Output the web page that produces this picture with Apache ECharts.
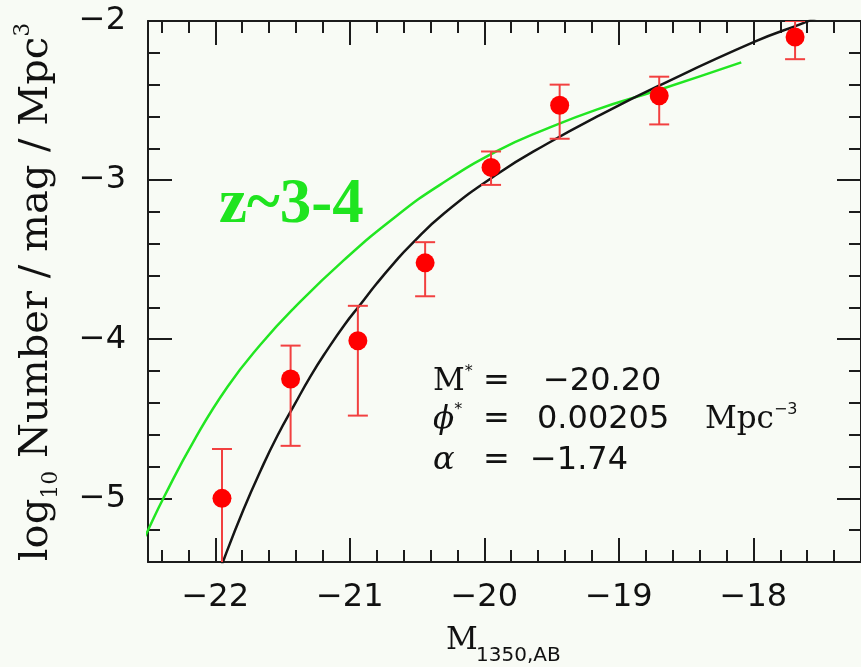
<!DOCTYPE html>
<html>
<head>
<meta charset="utf-8">
<script src="https://cdn.jsdelivr.net/npm/echarts@6/dist/echarts.min.js"></script>
<style>
  html, body { margin: 0; padding: 0; background: #f8fbf5; }
  #chart { width: 861px; height: 667px; }
</style>
</head>
<body>
<div id="chart"></div>
<script>
// Binned UV luminosity function: absolute magnitude M_1350,AB and log10 number density
const magBins   = [-21.95, -21.44, -20.94, -20.44, -19.95, -19.44, -18.70, -17.69];
const logPhi    = [-5.00, -4.25, -4.01, -3.52, -2.92, -2.53, -2.47, -2.10];
const logPhiHi  = [-4.69, -4.04, -3.79, -3.39, -2.82, -2.40, -2.35, -2.00];
const logPhiLo  = [-5.60, -4.67, -4.48, -3.73, -3.03, -2.74, -2.65, -2.24];

// Schechter fit through the bins (black curve)
const fitMag    = [-22.00, -21.93, -21.79, -21.66, -21.54, -21.41, -21.29, -21.17, -21.04, -20.92,
                   -20.80, -20.67, -20.55, -20.30, -19.90, -19.53, -19.16, -18.71, -17.99, -17.62,
                   -17.45];
const fitLogPhi = [-5.54, -5.37, -5.07, -4.82, -4.61, -4.41, -4.23, -4.07, -3.91, -3.78,
                   -3.65, -3.52, -3.41, -3.21, -2.96, -2.77, -2.60, -2.41, -2.13, -2.01,
                   -1.95];

// z~3-4 luminosity function for comparison (green curve)
const refMag    = [-22.60, -22.50, -22.38, -22.16, -21.91, -21.66, -21.41, -21.04, -20.66, -20.33,
                   -19.90, -19.53, -19.16, -18.71, -18.09];
const refLogPhi = [-5.38, -5.20, -4.99, -4.64, -4.30, -4.03, -3.80, -3.50, -3.23, -3.03,
                   -2.815, -2.675, -2.555, -2.435, -2.26];

// Axis ranges and labelled ticks
const xRange = [-22.5, -17.2];
const yRange = [-5.4, -2];
const xMajorTicks = [-22, -21, -20, -19, -18];
const yMajorTicks = [-5, -4, -3, -2];

// Fit parameters printed in the panel
const fitMstar = '−20.20';
const fitPhiStar = '0.00205';
const fitAlpha = '−1.74';

function minorBetween(range, step) {
  const out = [];
  const start = Math.ceil(range[0] / step - 1e-9);
  const end = Math.floor(range[1] / step + 1e-9);
  for (let i = start; i <= end; i++) {
    const v = +(i * step).toFixed(6);
    if (Math.abs(v - Math.round(v)) > 1e-6) out.push(v);
  }
  return out;
}
const xMinorTicks = minorBetween(xRange, 0.2);
const yMinorTicks = minorBetween(yRange, 0.2);

const INK = '#1c1c1c';
const minus = v => String(v).replace('-', '−');

function frameAxis(position, range, ticks, tickLen, drawLine, labels) {
  return {
    type: 'value',
    position: position,
    min: range[0],
    max: range[1],
    axisLine: { show: drawLine, onZero: false, lineStyle: { color: INK, width: 2 } },
    axisTick: { show: true, inside: true, length: tickLen, customValues: ticks,
                lineStyle: { color: INK, width: 2 } },
    axisLabel: labels ? Object.assign({ customValues: ticks, formatter: minus }, labels)
                      : { show: false },
    splitLine: { show: false },
    minorTick: { show: false }
  };
}

const tickFont = { fontFamily: 'DejaVu Sans', fontSize: 32, color: '#111' };
const left = { align: 'left', verticalAlign: 'middle', textAlign: 'left', textVerticalAlign: 'middle' };

function plainText(x, y, text, font) {
  return { type: 'text', x: x, y: y,
           style: Object.assign({ text: text, fill: '#111' }, left, font) };
}
function richText(x, y, text, rich) {
  return { type: 'text', x: x, y: y,
           style: Object.assign({ text: text, rich: rich, fill: '#111' }, left) };
}
const sansNum = { fontFamily: 'DejaVu Sans', fontSize: 32 };
const starRich = (family, style) => ({
  b: { fontFamily: family, fontStyle: style, fontSize: 31, lineHeight: 36, verticalAlign: 'middle', fill: '#111' },
  s: { fontFamily: 'DejaVu Sans', fontSize: 16, verticalAlign: 'top', fill: '#111' }
});

const chart = echarts.init(document.getElementById('chart'));
chart.setOption({
  backgroundColor: '#f8fbf5',
  animation: false,
  grid: { left: 148, top: 21, right: -3, bottom: 105, containLabel: false },
  xAxis: [
    frameAxis('bottom', xRange, xMajorTicks, 24, true, Object.assign({ margin: 20 }, tickFont)),
    frameAxis('bottom', xRange, xMinorTicks, 12, false, null),
    frameAxis('top', xRange, xMajorTicks, 24, true, null),
    frameAxis('top', xRange, xMinorTicks, 12, false, null)
  ],
  yAxis: [
    frameAxis('left', yRange, yMajorTicks, 24, true, Object.assign({ margin: 22 }, tickFont)),
    frameAxis('left', yRange, yMinorTicks, 12, false, null),
    frameAxis('right', yRange, yMajorTicks, 24, true, null),
    frameAxis('right', yRange, yMinorTicks, 12, false, null)
  ],
  series: [
    {
      name: 'z~3-4',
      type: 'line',
      data: refMag.map((m, i) => [m, refLogPhi[i]]),
      smooth: 0.5,
      symbol: 'none',
      clip: true,
      lineStyle: { color: '#22e622', width: 2.5 },
      z: 2
    },
    {
      name: 'Schechter fit',
      type: 'line',
      data: fitMag.map((m, i) => [m, fitLogPhi[i]]),
      smooth: 0.5,
      symbol: 'none',
      clip: true,
      lineStyle: { color: '#151515', width: 2.5 },
      z: 3
    },
    {
      name: 'errors',
      type: 'custom',
      clip: true,
      data: magBins.map((m, i) => [m, logPhiLo[i], logPhiHi[i]]),
      renderItem: function (params, api) {
        const x = api.value(0);
        const lo = api.coord([x, api.value(1)]);
        const hi = api.coord([x, api.value(2)]);
        const half = 10;
        const style = { stroke: '#f24040', lineWidth: 2 };
        return {
          type: 'group',
          children: [
            { type: 'line', shape: { x1: hi[0], y1: hi[1], x2: lo[0], y2: lo[1] }, style: style },
            { type: 'line', shape: { x1: hi[0] - half, y1: hi[1], x2: hi[0] + half, y2: hi[1] }, style: style },
            { type: 'line', shape: { x1: lo[0] - half, y1: lo[1], x2: lo[0] + half, y2: lo[1] }, style: style }
          ]
        };
      },
      z: 4
    },
    {
      name: 'bins',
      type: 'scatter',
      data: magBins.map((m, i) => [m, logPhi[i]]),
      symbol: 'circle',
      symbolSize: 19,
      itemStyle: { color: '#ff0000', opacity: 1 },
      z: 5
    }
  ],
  graphic: [
    // y-axis title
    {
      type: 'text', x: 37, y: 292, rotation: Math.PI / 2,
      style: {
        text: '{a|log}{s|10}{a| Number / mag / Mpc}{p|3}',
        align: 'center', verticalAlign: 'middle',
        textAlign: 'center', textVerticalAlign: 'middle',
        fill: '#111',
        rich: {
          a: { fontFamily: 'DejaVu Serif', fontSize: 40, lineHeight: 50, verticalAlign: 'middle', fill: '#111' },
          s: { fontFamily: 'DejaVu Serif', fontSize: 22, verticalAlign: 'bottom', fill: '#111' },
          p: { fontFamily: 'DejaVu Serif', fontSize: 22, verticalAlign: 'top', fill: '#111' }
        }
      }
    },
    // x-axis title
    plainText(446, 641, 'M', { fontFamily: 'DejaVu Serif', fontSize: 31 }),
    plainText(476, 656, '1350,AB', { fontFamily: 'DejaVu Sans', fontSize: 20 }),
    // redshift tag
    {
      type: 'text', x: 219, y: 206,
      style: Object.assign({ text: 'z~3-4', fontFamily: 'Liberation Serif', fontWeight: 'bold',
                             fontSize: 63, fill: '#1fe41f' }, left)
    },
    // fit parameters
    richText(433, 382, '{b|M}{s|*}', starRich('DejaVu Serif', 'normal')),
    plainText(483, 382, '=', sansNum),
    plainText(543, 382, fitMstar, sansNum),

    richText(433, 420, '{b|ϕ}{s|*}', starRich('DejaVu Serif', 'italic')),
    plainText(483, 420, '=', sansNum),
    plainText(537, 420, fitPhiStar, sansNum),
    richText(705, 420, '{b|Mpc}{s|−3}', starRich('DejaVu Serif', 'normal')),

    plainText(433, 461, 'α', { fontFamily: 'DejaVu Serif', fontStyle: 'italic', fontSize: 32 }),
    plainText(483, 461, '=', sansNum),
    plainText(530, 461, fitAlpha, sansNum)
  ]
});
</script>
</body>
</html>
